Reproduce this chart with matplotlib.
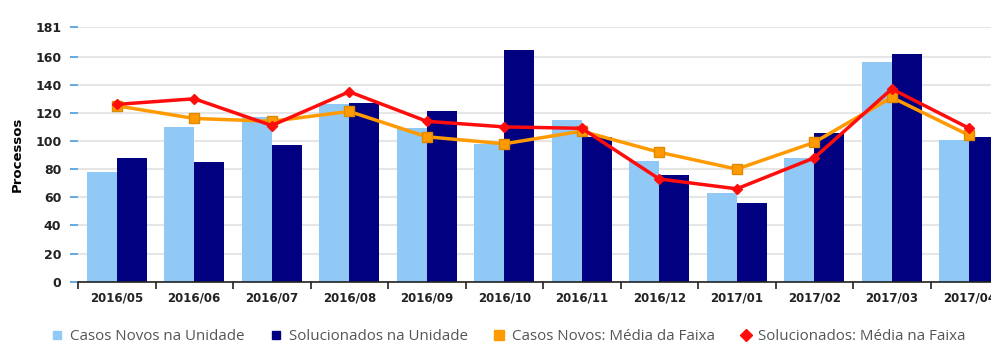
import matplotlib
matplotlib.use("Agg")
import matplotlib.pyplot as plt
from matplotlib.lines import Line2D
import numpy as np

# Monthly process counts
meses = ["2016/05", "2016/06", "2016/07", "2016/08", "2016/09", "2016/10",
         "2016/11", "2016/12", "2017/01", "2017/02", "2017/03", "2017/04"]

casos_novos = [78, 110, 117, 126, 109, 98, 115, 86, 63, 88, 156, 101]
solucionados = [88, 85, 97, 127, 121, 165, 103, 76, 56, 106, 162, 103]
media_casos_novos = [125, 116, 114, 121, 103, 98, 107, 92, 80, 99, 131, 104]
media_solucionados = [126, 130, 111, 135, 114, 110, 109, 73, 66, 88, 137, 109]

yticks = [0, 20, 40, 60, 80, 100, 120, 140, 160, 181]

c_light = "#90c8f6"
c_dark = "#000080"
c_orange = "#ff9a00"
c_red = "#ff0d0d"

fig = plt.figure(figsize=(9.91, 3.45), dpi=100)
# plot area runs a bit past the right edge of the figure
ax = fig.add_axes([78 / 991, 1 - 281.7 / 345, 930 / 991, 254.7 / 345])

x = np.arange(len(meses))
w = 0.387

ax.bar(x - w / 2, casos_novos, width=w, color=c_light, zorder=2)
ax.bar(x + w / 2, solucionados, width=w, color=c_dark, zorder=2)

ax.plot(x, media_casos_novos, color=c_orange, lw=2.5, marker="s", ms=7,
        mec="#e08a00", mfc=c_orange, zorder=3)
ax.plot(x, media_solucionados, color=c_red, lw=2.5, marker="D", ms=5.5,
        mec=c_red, mfc=c_red, zorder=4)

ax.set_xlim(-0.5, len(meses) - 0.5)
ax.set_ylim(0, 181)

# grid
ax.set_yticks(yticks)
ax.yaxis.grid(True, color="#e6e6e6", lw=1.5, zorder=0)
ax.set_axisbelow(True)
ax.tick_params(axis="y", length=6, width=1.2, color="#4a9bd6", pad=6,
               labelsize=9)
for lbl in ax.get_yticklabels():
    lbl.set_fontweight("bold")
    lbl.set_color("#222222")

# category labels in the middle, ticks on the boundaries
ax.set_xticks(x)
ax.set_xticklabels(meses, fontsize=8.5, fontweight="bold", color="#222222")
ax.tick_params(axis="x", length=0, pad=7)
ax.set_xticks(np.arange(len(meses) + 1) - 0.5, minor=True)
ax.tick_params(axis="x", which="minor", length=5, width=1.2, color="#222222")

for s in ["top", "right", "left"]:
    ax.spines[s].set_visible(False)
ax.spines["bottom"].set_color("#222222")
ax.spines["bottom"].set_linewidth(1.2)

ax.set_ylabel("Processos", fontsize=9.5, fontweight="bold", labelpad=8)

handles = [
    Line2D([], [], ls="none", marker="s", ms=6, color=c_light),
    Line2D([], [], ls="none", marker="s", ms=6, color=c_dark),
    Line2D([], [], ls="none", marker="s", ms=7, color=c_orange),
    Line2D([], [], ls="none", marker="D", ms=6, color=c_red),
]
labels = ["Casos Novos na Unidade", "Solucionados na Unidade",
          "Casos Novos: Média da Faixa", "Solucionados: Média na Faixa"]
fig.legend(handles, labels, loc="center", bbox_to_anchor=(509 / 991, 1 - 337 / 345),
           ncol=4, frameon=False, handlelength=0.7, handletextpad=0.5,
           columnspacing=1.7,
           prop={"family": "Open Sans", "size": 10.9}, labelcolor="#555555")

fig.savefig("out.png", dpi=100)
